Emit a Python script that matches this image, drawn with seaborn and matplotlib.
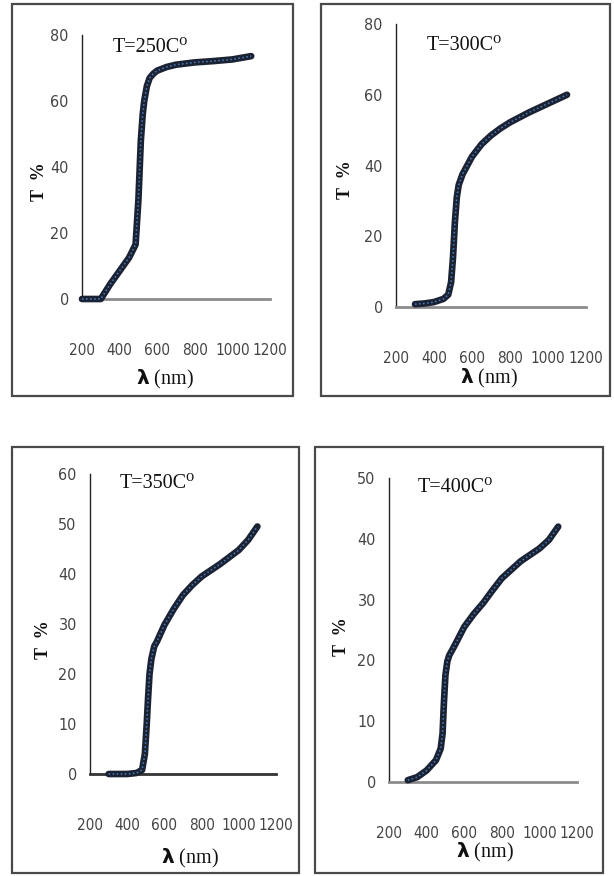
import matplotlib
matplotlib.use("Agg")
from matplotlib import pyplot as plt
from matplotlib.patches import Rectangle
import seaborn as sns
import pandas as pd

# Transmittance spectra
wl_250 = [200, 250, 300, 350, 400, 450, 485, 500, 513, 523, 531, 545, 560, 580,
          600, 650, 700, 800, 900, 1000, 1100]
t_250 = [0, 0, 0, 4.5, 8.5, 12.5, 16.5, 30, 48, 56, 60, 64.5, 67, 68.3,
         69.2, 70.3, 71, 71.7, 72.1, 72.6, 73.6]

wl_300 = [300, 350, 400, 450, 475, 490, 500, 510, 520, 530, 550, 575, 600, 650,
          700, 750, 800, 900, 1000, 1100]
t_300 = [0.8, 1, 1.4, 2.3, 3.5, 7, 14, 24, 31, 34.5, 37.5, 40, 42.5, 46,
         48.5, 50.5, 52.2, 55, 57.5, 60]

wl_350 = [300, 350, 400, 450, 480, 495, 505, 512, 520, 530, 545, 560, 600, 650,
          700, 750, 800, 900, 1000, 1050, 1100]
t_350 = [0, 0, 0, 0.2, 0.8, 4, 10, 15, 20, 23, 25.5, 26.5, 29.8, 33,
         35.8, 37.8, 39.5, 42, 44.8, 46.8, 49.5]

wl_400 = [300, 350, 400, 450, 475, 485, 492, 500, 510, 520, 550, 600, 650, 700,
          750, 800, 900, 1000, 1050, 1100]
t_400 = [0.3, 0.8, 1.9, 3.6, 5.5, 8, 13, 17.5, 19.8, 20.8, 22.5, 25.5, 27.6, 29.4,
         31.5, 33.5, 36.3, 38.4, 39.8, 42]

titles = ["T=250C\u2070", "T=300C\u2070", "T=350C\u2070", "T=400C\u2070"]
y_max = [80, 80, 60, 50]
y_step = [20, 20, 10, 10]
x_ticks = [200, 400, 600, 800, 1000, 1200]

sns.set_style("white")
plt.rcParams["font.family"] = ["Liberation Serif", "DejaVu Serif"]

W, H = 614, 876
fig = plt.figure(figsize=(W / 100, H / 100), dpi=100)

def px_box(l, t, r, b):
    return [l / W, 1 - b / H, (r - l) / W, (b - t) / H]

# axes rectangles in pixels: left, top, right, bottom
axes_px = [(82, 35, 270, 299), (396, 24, 586, 307),
           (90, 474, 276, 774), (389, 478, 577, 782)]
# outer frames
frames_px = [(12, 4, 293, 396), (321, 4, 610, 396),
             (12, 447, 299, 873), (315, 447, 603, 873)]
# text positions (x, y) in pixels
title_px = [(150, 48), (464, 45), (157, 483), (455, 487)]
ylab_px = [(39, 182), (345, 180), (43, 640), (342, 637)]
xlab_px = [(165, 379), (489, 378), (190, 858), (485, 852)]
axis_col = ["#8c8c8c", "#8c8c8c", "#333333", "#8c8c8c"]

series = [(wl_250, t_250), (wl_300, t_300), (wl_350, t_350), (wl_400, t_400)]

for i, (wl, t) in enumerate(series):
    l, tp, r, b = frames_px[i]
    fig.patches.append(Rectangle((l / W, 1 - b / H), (r - l) / W, (b - tp) / H,
                                 transform=fig.transFigure, fill=False,
                                 edgecolor="#4a4a4a", linewidth=1.6))

    ax = fig.add_axes(px_box(*axes_px[i]))
    df = pd.DataFrame({"wl": wl, "T": t})
    sns.lineplot(data=df, x="wl", y="T", ax=ax, color="#1b2233", linewidth=4.8,
                 clip_on=False, zorder=3)
    sns.lineplot(data=df, x="wl", y="T", ax=ax, color="#4a7fc0", linewidth=1.1,
                 linestyle=":", clip_on=False, zorder=4)

    ax.set_xlim(200, 1200)
    ax.set_ylim(0, y_max[i])
    ax.set_xticks(x_ticks)
    ax.set_yticks(range(0, y_max[i] + 1, y_step[i]))
    ax.set_xlabel("")
    ax.set_ylabel("")
    ax.patch.set_alpha(0)

    ax.spines[["top", "right"]].set_visible(False)
    ax.spines["bottom"].set_color(axis_col[i])
    ax.spines["bottom"].set_linewidth(2.0)
    ax.spines["left"].set_color("#222222")
    ax.spines["left"].set_linewidth(1.0)

    ax.tick_params(axis="x", direction="inout", length=12, width=1.0,
                   color="#333333", pad=26, labelsize=11,
                   labelcolor="#444444")
    ax.tick_params(axis="y", direction="inout", length=9, width=1.4,
                   color="#555555", pad=5, labelsize=11.5,
                   labelcolor="#444444")
    for lab in ax.get_xticklabels() + ax.get_yticklabels():
        lab.set_family("DejaVu Sans")
        lab.set_stretch("condensed")

    tx, ty = title_px[i]
    fig.text(tx / W, 1 - ty / H, titles[i], ha="center", va="center",
             fontsize=14.5, color="#111111")
    yx, yy = ylab_px[i]
    fig.text(yx / W, 1 - yy / H, "T  %", ha="center", va="center",
             rotation=90, fontsize=13, fontweight="bold", color="#111111")
    xx, xy = xlab_px[i]
    fig.text(xx / W, 1 - xy / H, r"$\mathbf{\lambda}$ (nm)", ha="center",
             va="center", fontsize=14.5, color="#111111")

fig.savefig("out.png", dpi=100)
